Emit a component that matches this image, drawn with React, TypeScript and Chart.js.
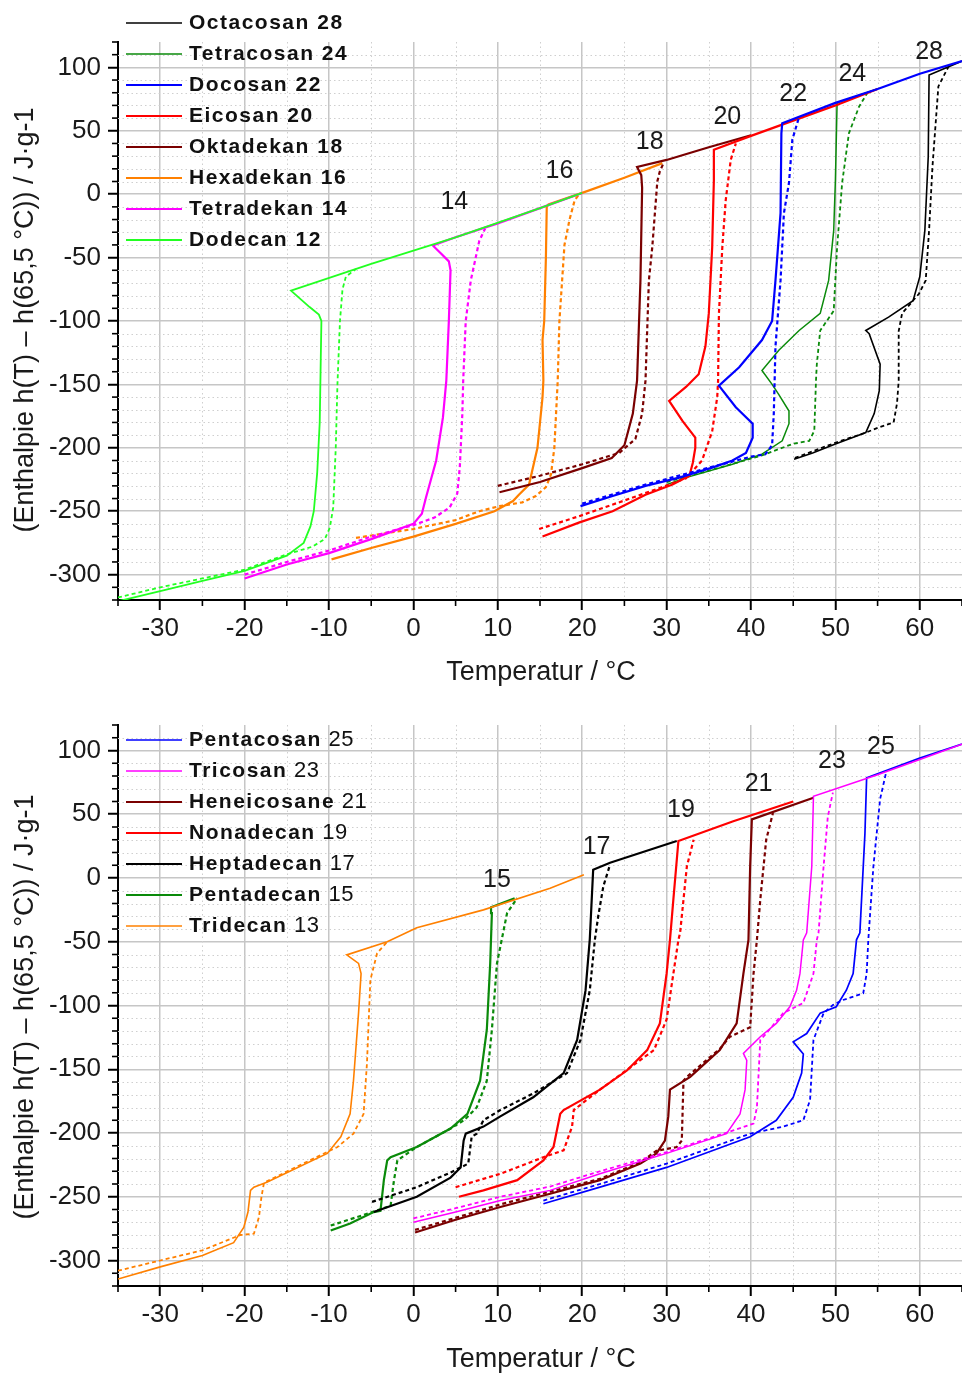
import React, { useEffect, useRef } from 'react';
import { Chart, registerables } from 'chart.js';
Chart.register(...registerables);

const W = 962;
const H = 687;

// ---------- axes ----------
const xTicks = [-30, -20, -10, 0, 10, 20, 30, 40, 50, 60];
const yTicks = [-300, -250, -200, -150, -100, -50, 0, 50, 100];
const xRange = [-35, 65];
const yRange = [-320, 120];
const xTitle = 'Temperatur / °C';
const yTitle = '(Enthalpie h(T) – h(65,5 °C)) / J·g-1';

// ---------- top panel data (solid / dashed) ----------
const octacosanSolid = [[45.1,-209],[47.3,-204],[50,-197],[53.6,-188],[54.6,-173],[55.2,-155],[55.3,-134],[54.0,-110],[53.6,-107.5],[56.3,-97],[59.2,-84],[60.0,-65],[60.6,-28.5],[61.0,29.5],[61.1,94],[65,105]];
const octacosanDashed = [[45.2,-208],[50,-196],[53.6,-188],[55.1,-184],[56.9,-180],[57.3,-165],[57.5,-147],[57.5,-108],[57.9,-94],[59.9,-78.5],[60.7,-68],[61.1,-28.5],[61.5,21.6],[62.2,85],[63.4,100.6]];
const tetracosanSolid = [[30,-229],[32.3,-223.5],[37.8,-213],[41.3,-205],[43.7,-194.5],[44.5,-181],[44.5,-171],[43.3,-158],[42.5,-150],[41.3,-139],[43.3,-123],[45.7,-107.5],[48.2,-94],[49.2,-68],[49.8,-28.5],[50.0,11],[50.2,72],[55,83]];
const tetracosanDashed = [[30,-227],[35,-218],[41.3,-206],[44.9,-197],[46.9,-194.5],[47.5,-186.6],[47.7,-147],[47.8,-134],[48.2,-107.5],[49.8,-92],[50.2,-42],[50.8,9],[51.6,48],[52.8,69],[53.8,80]];
const docosanSolid = [[19.8,-246],[23.6,-238],[27.5,-230],[31.5,-223.5],[35.4,-215.6],[37.8,-210],[39.4,-204],[40.2,-192],[40.2,-181],[38.2,-168],[36.2,-151],[38.6,-136.5],[41.3,-115],[42.5,-100],[42.9,-68],[43.5,-15],[43.6,48],[43.7,56],[50,72],[55,83],[60,95],[65,105]];
const docosanDashed = [[20,-244],[27.5,-229],[35.4,-215],[40,-207],[41.7,-205],[42.5,-198],[42.7,-173],[42.8,-147],[42.9,-120],[43.5,-68],[43.9,-15],[44.5,9],[44.9,43],[45.7,61]];
const eicosanSolid = [[15.3,-270],[19.6,-259],[23.6,-250],[27.5,-237],[30.7,-229],[32.7,-222],[33.1,-212],[33.4,-200],[33.4,-192],[31.9,-179],[30.3,-163],[32.3,-152],[33.8,-142],[34.6,-120],[35.0,-94],[35.4,-42],[35.6,11],[35.6,35],[40,46],[45,58],[50,70],[55,83]];
const eicosanDashed = [[14.9,-264],[19.6,-254],[24.8,-242],[29.9,-230],[32.3,-224],[34.2,-210],[35.4,-187],[36.0,-160],[36.1,-147],[36.2,-94],[36.6,-42],[37.0,-5],[37.6,27],[38.2,40]];
const oktadekanSolid = [[10.2,-235],[15,-227],[20,-216],[23.5,-208],[25,-198],[26,-173],[26.5,-147],[26.9,-68],[27.1,5],[27.0,15],[26.5,21.5],[30,27],[35,37],[40,46.5]];
const oktadekanDashed = [[10,-230],[15,-222],[20,-213],[24.4,-204],[26.3,-193],[27.1,-173],[27.5,-147],[27.9,-68],[28.3,-42],[28.9,10],[29.2,18],[29.6,24]];
const hexadekanSolid = [[-9.7,-288],[-5,-279],[0,-270],[5,-260],[9.6,-250],[11.8,-242],[12.5,-237],[13.7,-229],[14.7,-200],[15.3,-160],[15.4,-147],[15.3,-115],[15.5,-100],[15.7,-50],[15.8,-10],[16,-8],[20,1],[25,13],[29.5,24.5]];
const hexadekanDashed = [[-6.8,-271],[0,-264],[5,-257],[7.8,-250],[10.2,-246],[12.9,-243],[14.5,-238],[15.7,-231],[16.3,-221],[16.7,-200],[17.1,-147],[17.3,-100],[17.9,-40],[18.5,-20],[19.1,-5],[19.7,0.5]];
const tetradekanSolid = [[-20,-303],[-15,-292],[-10,-283],[-5,-272],[0,-260],[1.0,-252],[1.5,-239],[2.7,-210],[3.5,-176],[3.9,-147],[4.2,-100],[4.4,-60],[4.2,-53],[3.3,-47],[2.3,-40.5],[5,-34],[10,-23],[15,-11],[20,1]];
const tetradekanDashed = [[-20,-300],[-15,-290],[-10,-281],[-5,-270],[0,-261],[2.5,-255],[4.3,-247],[5.2,-236],[5.5,-215],[5.8,-173],[5.9,-147],[6.2,-100],[6.8,-68],[7.8,-37],[8.5,-27]];
const dodecanSolid = [[-35,-321],[-30,-313],[-25,-305],[-20,-297],[-15,-285],[-13,-275],[-12.2,-262],[-11.8,-250],[-11.4,-220],[-11.1,-180],[-11.0,-140],[-10.9,-100],[-11.2,-95],[-12.3,-89],[-14.5,-76],[-5,-55],[5,-34],[15,-11],[20,1]];
const dodecanDashed = [[-35,-318],[-30,-310],[-25,-303],[-20,-296],[-15,-284],[-12,-278],[-10.5,-272],[-9.9,-263],[-9.5,-247],[-9.2,-200],[-9.0,-150],[-8.7,-100],[-8.4,-75],[-8.0,-65],[-6.8,-59]];

// ---------- bottom panel data ----------
const pentacosanSolid = [[15.4,-255.5],[22.1,-242.5],[30,-227],[39.9,-203],[43.0,-190],[45.0,-172],[46.0,-153],[46.2,-138],[45.0,-128.5],[46.6,-122],[48.2,-106],[50.1,-101],[51.3,-88],[52.1,-75],[52.5,-48.5],[52.9,-43],[53.5,35],[53.7,78.6],[60,94],[65,105]];
const pentacosanDashed = [[15.4,-253],[22.1,-240],[30,-224],[39.9,-200.5],[43.8,-195],[46.2,-190],[47.0,-174],[47.4,-127],[48.6,-106],[49.7,-99.6],[50.9,-95.7],[53.3,-90.4],[53.7,-75],[53.9,-48.5],[54.5,9],[55.3,62],[56.0,82.5]];
const tricosanSolid = [[0,-270],[5,-262],[10.3,-253],[16.2,-245],[22.1,-232],[30,-216],[37.1,-200.5],[38.7,-185],[39.3,-166],[39.5,-143],[39.1,-137.6],[41.1,-124.5],[43.0,-114],[44.6,-101],[45.4,-88],[45.8,-75],[46.2,-48.5],[46.6,-43],[47.2,9],[47.4,64],[55,81],[60,93],[65,105]];
const tricosanDashed = [[0,-267],[5,-259],[10.3,-250],[16.2,-242],[22.1,-230],[30,-215],[37.9,-198],[40.3,-192.6],[40.7,-180],[41.1,-127],[41.8,-122],[43.8,-106],[46.2,-98],[47.4,-75],[47.8,-48.5],[48.0,-43],[48.6,9],[49.1,48],[49.7,67]];
const heneicosaneSolid = [[0.2,-278],[5,-268],[10.3,-258],[16.2,-247.6],[22.1,-237],[26.9,-224],[28.8,-216],[29.8,-206],[30.2,-187],[30.4,-166],[32.8,-156],[36.3,-135],[38.3,-114],[39.1,-75],[39.7,-48.5],[39.9,9],[40.1,46],[47.4,63]];
const heneicosaneDashed = [[0.2,-276],[10.3,-256],[16.2,-246],[22.1,-236],[26.9,-223],[28.8,-214],[31.2,-211],[31.8,-206],[32.0,-159],[32.4,-156],[36.3,-134],[37.5,-124.5],[39.9,-117],[40.3,-75],[40.7,-48.5],[41.1,-17],[41.8,30],[42.6,51]];
const nonadecanSolid = [[5.4,-250],[8.3,-245],[12.3,-237],[15.4,-221.5],[16.6,-211],[17.4,-185],[17.8,-182],[22.1,-166],[25.3,-151],[27.7,-135],[29.2,-114],[30.0,-75],[30.4,-48.5],[30.8,-17],[31.4,29],[37.9,44.5],[45,60]];
const nonadecanDashed = [[5.0,-242.5],[10.3,-232],[15.4,-219],[17.8,-213.6],[18.8,-195],[19.0,-182],[22.1,-166],[25.3,-150.5],[28.5,-135],[30.0,-111],[30.8,-75],[31.4,-48.5],[31.6,-43],[32.4,9],[33.2,30]];
const heptadecanSolid = [[-4.7,-262],[0.4,-250],[4.4,-235],[5.6,-227],[5.95,-206],[6.2,-200.5],[8.3,-195],[10.3,-187],[14.2,-172],[17.8,-153],[19.4,-127],[20.4,-88],[20.9,-48],[21.3,6.5],[23.3,12],[31.2,29]];
const heptadecanDashed = [[-4.9,-254],[0.4,-242.5],[4.4,-231],[6.5,-224],[6.9,-203],[7.5,-200.5],[8.3,-190],[10.3,-182],[14.2,-169],[18.2,-153],[19.8,-127],[20.9,-88],[21.5,-48.5],[21.9,-30],[22.5,-6.6],[23.3,10.5]];
const pentadecanSolid = [[-9.8,-276.5],[-7.5,-271],[-4.7,-262],[-3.9,-261],[-3.5,-237],[-3.1,-221.5],[-2.7,-219],[0.4,-211],[4.4,-196.5],[6.4,-185],[7.9,-159],[8.7,-119],[9.1,-67],[9.3,-27.5],[9.2,-23],[12,-16]];
const pentadecanDashed = [[-9.8,-272.6],[-5.5,-263.4],[-2.7,-257],[-2.3,-237],[-1.9,-221.5],[0.4,-211],[4.4,-196.5],[6.0,-190],[7.5,-180],[8.7,-159],[9.3,-119],[9.9,-67],[11.1,-27.5],[12.3,-15.7]];
const tridecanSolid = [[-35,-314.5],[-30,-305],[-25,-296],[-21.3,-286],[-20.1,-274],[-19.6,-262],[-19.3,-245],[-18.9,-242.5],[-17.3,-238.5],[-10.2,-216],[-8.6,-203],[-7.5,-185],[-7.1,-159],[-6.5,-106],[-6.2,-75],[-6.5,-67],[-7.9,-60.3],[-3.1,-50],[0.4,-39],[8.3,-25],[16.2,-8],[20.2,2.6]];
const tridecanDashed = [[-35,-308],[-30,-300],[-25,-292],[-20.5,-280],[-18.9,-279],[-18.3,-266],[-18.0,-250],[-17.7,-239],[-14,-227],[-9.0,-211],[-7.1,-200.5],[-5.9,-185],[-5.5,-145],[-5.1,-80],[-4.3,-59],[-3.1,-50]];

// ---------- number annotations (data coordinates) ----------
const topNumLabels = ['14', '16', '18', '20', '22', '24', '28'];
const topNumX = [4.85, 17.3, 28.0, 37.2, 45.0, 52.0, 61.1];
const topNumY = [-6.3, 18.2, 41.1, 60.5, 79, 94.9, 111.9];
const botNumLabels = ['15', '17', '19', '21', '23', '25'];
const botNumX = [9.9, 21.7, 31.7, 40.9, 49.6, 55.4];
const botNumY = [-1.3, 24.6, 52.9, 73.3, 91.4, 102.8];

const FONT = '"Liberation Sans", Arial, Helvetica, sans-serif';
const TEXT = '#1a1a1a';

type S = { name: string; num: string; color: string; width: number; solid: number[][]; dashed: number[][]; order: number; numBold: boolean };

const topSeries: S[] = [
  { name: 'Octacosan', num: '28', color: '#000000', width: 1.6, solid: octacosanSolid, dashed: octacosanDashed, order: 7, numBold: true },
  { name: 'Tetracosan', num: '24', color: '#0a8a0a', width: 1.5, solid: tetracosanSolid, dashed: tetracosanDashed, order: 6, numBold: true },
  { name: 'Docosan', num: '22', color: '#0000ff', width: 2.2, solid: docosanSolid, dashed: docosanDashed, order: 0, numBold: true },
  { name: 'Eicosan', num: '20', color: '#ff0000', width: 2.2, solid: eicosanSolid, dashed: eicosanDashed, order: 1, numBold: true },
  { name: 'Oktadekan', num: '18', color: '#7a0000', width: 2.2, solid: oktadekanSolid, dashed: oktadekanDashed, order: 2, numBold: true },
  { name: 'Hexadekan', num: '16', color: '#ff8000', width: 2.2, solid: hexadekanSolid, dashed: hexadekanDashed, order: 5, numBold: true },
  { name: 'Tetradekan', num: '14', color: '#ff00ff', width: 2.2, solid: tetradekanSolid, dashed: tetradekanDashed, order: 4, numBold: true },
  { name: 'Dodecan', num: '12', color: '#22ff22', width: 1.8, solid: dodecanSolid, dashed: dodecanDashed, order: 3, numBold: true },
];

const botSeries: S[] = [
  { name: 'Pentacosan', num: '25', color: '#0000ff', width: 1.7, solid: pentacosanSolid, dashed: pentacosanDashed, order: 6, numBold: false },
  { name: 'Tricosan', num: '23', color: '#ff00ff', width: 1.5, solid: tricosanSolid, dashed: tricosanDashed, order: 0, numBold: false },
  { name: 'Heneicosane', num: '21', color: '#7a0000', width: 2.2, solid: heneicosaneSolid, dashed: heneicosaneDashed, order: 2, numBold: false },
  { name: 'Nonadecan', num: '19', color: '#ff0000', width: 2.2, solid: nonadecanSolid, dashed: nonadecanDashed, order: 1, numBold: false },
  { name: 'Heptadecan', num: '17', color: '#000000', width: 2.2, solid: heptadecanSolid, dashed: heptadecanDashed, order: 3, numBold: false },
  { name: 'Pentadecan', num: '15', color: '#0a8a0a', width: 2.2, solid: pentadecanSolid, dashed: pentadecanDashed, order: 5, numBold: false },
  { name: 'Tridecan', num: '13', color: '#ff8000', width: 1.6, solid: tridecanSolid, dashed: tridecanDashed, order: 4, numBold: false },
];

type PanelCfg = {
  series: S[];
  padTop: number;
  axisH: number;
  legendTop: number;
  numLabels: string[];
  numX: number[];
  numY: number[];
};

const topCfg: PanelCfg = { series: topSeries, padTop: 42, axisH: 87, legendTop: 23, numLabels: topNumLabels, numX: topNumX, numY: topNumY };
const botCfg: PanelCfg = { series: botSeries, padTop: 38, axisH: 88, legendTop: 53, numLabels: botNumLabels, numX: botNumX, numY: botNumY };

function makeDecor(cfg: PanelCfg) {
  return {
    id: 'decor',
    beforeDatasetsDraw(chart: any) {
      const { ctx, chartArea: ca, scales } = chart;
      const x = scales.x, y = scales.y;
      ctx.save();
      ctx.beginPath();
      ctx.rect(ca.left, ca.top, ca.right - ca.left, ca.bottom - ca.top);
      ctx.clip();
      ctx.strokeStyle = '#cfcfcf';
      ctx.lineWidth = 1;
      ctx.setLineDash([1.5, 3]);
      for (let v = xRange[0] + 10; v < xRange[1]; v += 10) {
        const px = Math.round(x.getPixelForValue(v)) + 0.5;
        ctx.beginPath(); ctx.moveTo(px, ca.top); ctx.lineTo(px, ca.bottom); ctx.stroke();
      }
      for (let v = yRange[0] + 10; v < yRange[1]; v += 10) {
        if (v % 50 === 0) continue;
        const py = Math.round(y.getPixelForValue(v)) + 0.5;
        ctx.beginPath(); ctx.moveTo(ca.left, py); ctx.lineTo(ca.right, py); ctx.stroke();
      }
      ctx.restore();
    },
    afterDraw(chart: any) {
      const { ctx, chartArea: ca, scales } = chart;
      const x = scales.x, y = scales.y;
      ctx.save();
      // minor ticks
      ctx.strokeStyle = '#000';
      ctx.lineWidth = 1.6;
      for (let v = xRange[0]; v <= xRange[1]; v += 10) {
        const px = x.getPixelForValue(v);
        ctx.beginPath(); ctx.moveTo(px, ca.bottom); ctx.lineTo(px, ca.bottom + 6); ctx.stroke();
      }
      for (let v = yRange[0]; v <= yRange[1]; v += 10) {
        if (v % 50 === 0) continue;
        const py = y.getPixelForValue(v);
        ctx.beginPath(); ctx.moveTo(ca.left - 6, py); ctx.lineTo(ca.left, py); ctx.stroke();
      }
      // number annotations
      ctx.fillStyle = TEXT;
      ctx.font = `25px ${FONT}`;
      ctx.textAlign = 'center';
      ctx.textBaseline = 'middle';
      cfg.numLabels.forEach((t, i) => {
        ctx.fillText(t, x.getPixelForValue(cfg.numX[i]), y.getPixelForValue(cfg.numY[i]));
      });
      // legend
      ctx.textAlign = 'left';
      cfg.series.forEach((s, i) => {
        const ry = cfg.legendTop + i * 31;
        ctx.strokeStyle = s.color;
        ctx.lineWidth = s.width;
        ctx.setLineDash([]);
        ctx.beginPath(); ctx.moveTo(126, ry); ctx.lineTo(182, ry); ctx.stroke();
        ctx.fillStyle = '#111';
        (ctx as any).letterSpacing = '1.5px';
        ctx.font = `bold 21px ${FONT}`;
        ctx.fillText(s.name, 189, ry);
        const w = ctx.measureText(s.name).width;
        (ctx as any).letterSpacing = s.numBold ? '1.5px' : '0.5px';
        ctx.font = s.numBold ? `bold 21px ${FONT}` : `22px ${FONT}`;
        ctx.fillText(' ' + s.num, 189 + w, ry);
      });
      (ctx as any).letterSpacing = '0px';
      // axis titles
      ctx.fillStyle = TEXT;
      ctx.font = `27px ${FONT}`;
      ctx.textAlign = 'center';
      ctx.textBaseline = 'middle';
      ctx.fillText(xTitle, 541, 673);
      ctx.translate(26, 320);
      ctx.rotate(-Math.PI / 2);
      ctx.fillText(yTitle, 0, 0);
      ctx.restore();
    },
  };
}

function buildConfig(cfg: PanelCfg): any {
  const datasets: any[] = [];
  cfg.series.forEach((s) => {
    datasets.push({
      label: `${s.name} ${s.num}`,
      data: s.solid.map(([px, py]) => ({ x: px, y: py })),
      borderColor: s.color,
      backgroundColor: s.color,
      borderWidth: s.width,
      showLine: true,
      pointRadius: 0,
      tension: 0,
      order: s.order * 2,
    });
    datasets.push({
      label: `${s.name} ${s.num} (gestrichelt)`,
      data: s.dashed.map(([px, py]) => ({ x: px, y: py })),
      borderColor: s.color,
      backgroundColor: s.color,
      borderWidth: Math.max(1.8, s.width),
      borderDash: [4, 3],
      showLine: true,
      pointRadius: 0,
      tension: 0,
      order: s.order * 2 + 1,
    });
  });
  const tickFont = { family: FONT, size: 26 };
  return {
    type: 'scatter',
    data: { datasets },
    plugins: [makeDecor(cfg)],
    options: {
      responsive: false,
      maintainAspectRatio: false,
      devicePixelRatio: 1,
      animation: false,
      layout: { padding: { top: cfg.padTop, left: 0, right: 0, bottom: 0 } },
      plugins: { legend: { display: false }, tooltip: { enabled: false } },
      scales: {
        x: {
          type: 'linear',
          min: xRange[0],
          max: xRange[1],
          afterBuildTicks: (s: any) => { s.ticks = xTicks.map((v) => ({ value: v })); },
          afterFit: (s: any) => { s.height = cfg.axisH; },
          ticks: { font: tickFont, color: TEXT, padding: 3, maxRotation: 0, autoSkip: false },
          grid: { color: '#c6c6c6', lineWidth: 1.5, drawTicks: true, tickLength: 10, tickColor: '#000', tickWidth: 2 },
          border: { display: true, color: '#000', width: 2 },
        },
        y: {
          type: 'linear',
          min: yRange[0],
          max: yRange[1],
          afterBuildTicks: (s: any) => { s.ticks = yTicks.map((v) => ({ value: v })); },
          afterFit: (s: any) => { s.width = 118; },
          ticks: { font: tickFont, color: TEXT, padding: 7, autoSkip: false },
          grid: { color: '#c6c6c6', lineWidth: 1.5, drawTicks: true, tickLength: 10, tickColor: '#000', tickWidth: 2 },
          border: { display: true, color: '#000', width: 2 },
        },
      },
    },
  };
}

function Panel({ cfg }: { cfg: PanelCfg }) {
  const ref = useRef<HTMLCanvasElement>(null);
  useEffect(() => {
    const chart = new Chart(ref.current as HTMLCanvasElement, buildConfig(cfg));
    return () => chart.destroy();
  }, [cfg]);
  return <canvas ref={ref} width={W} height={H} style={{ display: 'block', width: W, height: H }} />;
}

export default function App() {
  return (
    <div style={{ position: 'absolute', left: 0, top: 0, width: W, height: 2 * H, background: '#fff' }}>
      <Panel cfg={topCfg} />
      <Panel cfg={botCfg} />
    </div>
  );
}
